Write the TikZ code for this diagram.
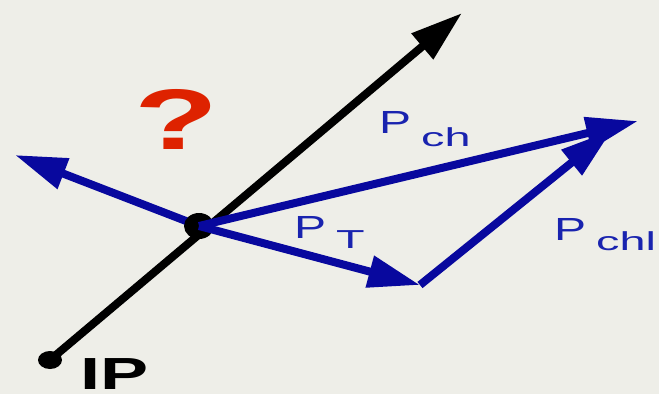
\documentclass[tikz,border=0pt]{standalone}
\usepackage{fontspec}
\usepackage{graphicx}
\setmainfont{Liberation Sans}
\usetikzlibrary{arrows.meta}
\definecolor{bg}{RGB}{238,238,232}
\definecolor{vblue}{RGB}{8,8,158}
\definecolor{tblue}{RGB}{25,35,175}
\definecolor{qred}{RGB}{222,34,0}
\begin{document}
\begin{tikzpicture}[x=1pt,y=-1pt,
  vec/.style={draw=vblue,line width=8pt,-{Triangle[length=52pt,width=31pt]}},
  axisline/.style={draw=black,line width=8pt,-{Triangle[length=52pt,width=32pt]}},
  lbl/.style={inner sep=0pt,anchor=base west,text=tblue},
  big/.style={font=\fontsize{32}{32}\selectfont},
  sub/.style={font=\fontsize{26}{26}\selectfont}]
\fill[bg] (0,0) rectangle (659,394);
\useasboundingbox (0,0) rectangle (659,394);
\coordinate (ip) at (50,360);
\coordinate (top) at (462,13);
\coordinate (c) at (199,226);
\coordinate (left) at (15,155);
\coordinate (pch) at (638,121);
\coordinate (bend) at (420,285);
\coordinate (pchl) at (612,130);
\draw[axisline] (ip) -- (top);
\fill (ip) circle [x radius=12pt, y radius=9pt];
\draw[vec] (c) -- (left);
\fill (c) circle [x radius=15pt, y radius=13pt];
\draw[vec] (c) -- (pch);
\draw[vec] (c) -- (bend);
\draw[vec] (bend) -- (pchl);
% labels
\node[lbl,big] (Pch) at (379,133) {\scalebox{1.5}[1]{P}};
\node[lbl,sub] (Pchs) at (421,146) {\scalebox{1.8}[1]{ch}};
\node[lbl,big] (PT) at (294,238) {\scalebox{1.5}[1]{P}};
\node[lbl,sub] (PTs) at (336,248) {\scalebox{1.8}[1]{T}};
\node[lbl,big] (Pchl) at (554,240) {\scalebox{1.5}[1]{P}};
\node[lbl,sub] (Pchls) at (596,250) {\scalebox{1.8}[1]{chl}};
\node[inner sep=0pt,anchor=base west,font=\fontsize{45}{45}\selectfont\bfseries] (IP) at (80,389) {\scalebox{1.6}[1]{IP}};
\node[inner sep=0pt,anchor=base west,text=qred,font=\fontsize{86}{86}\selectfont\bfseries] (q) at (134,149) {\scalebox{1.6}[1]{?}};
\end{tikzpicture}
\end{document}
